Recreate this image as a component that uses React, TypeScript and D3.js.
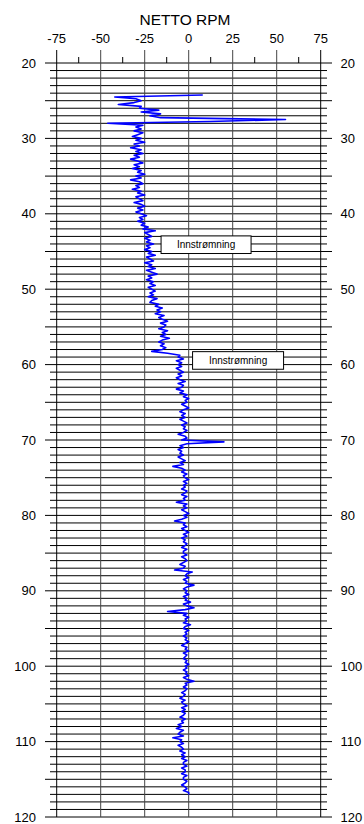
import React from "react";
import * as d3 from "d3";

// depth axis (m) and RPM axis
const X_TICKS = [-75, -50, -25, 0, 25, 50, 75];
const X_MINOR = [-62.5, -37.5, -12.5, 12.5, 37.5, 62.5];
const Y_LABELS = [20, 30, 40, 50, 60, 70, 80, 90, 100, 110, 120];
const Y_GRID = d3.range(20, 121, 1);

// trace samples, every 0.25 m from 24.25 m
const START_DEPTH = 24.25;
const STEP = 0.25;
const rpm = [
  8, -42, -30,
  -27, -31, -40, -27,
  -28, -17, -27, -16,
  -22, -16, 55, 12,
  -46, -26, -30, -27,
  -31, -26, -29, -32,
  -27, -30, -25, -31,
  -28, -33, -27, -30,
  -26, -31, -28, -33,
  -29, -26, -31, -28,
  -32, -27, -29, -25,
  -30, -27, -33, -28,
  -26, -30, -28, -32,
  -27, -29, -25, -30,
  -28, -26, -31, -27,
  -25, -29, -26, -30,
  -27, -24, -28, -26,
  -29, -25, -27, -23,
  -26, -19, -25, -23,
  -21, -25, -22, -24,
  -20, -24, -22, -25,
  -21, -23, -19, -24,
  -22, -20, -25, -21,
  -23, -19, -24, -21,
  -18, -23, -21, -24,
  -20, -22, -19, -23,
  -21, -19, -22, -20,
  -23, -18, -21, -22,
  -17, -19, -15, -18,
  -16, -19, -14, -17,
  -15, -12, -16, -13,
  -14, -17, -12, -15,
  -13, -16, -11, -15,
  -17, -14, -16, -13,
  -15, -21, -12, -5,
  -6, -3, -7, -4,
  -6, -4, -7, -5,
  -3, -6, -4, -7,
  -5, -2, -6, -3,
  -4, -7, -3, -5,
  -1, -3, 0, -2,
  -1, -4, -2, 0,
  -3, -5, -2, -4,
  -2, -5, -3, -1,
  -4, -2, -3, -1,
  -3, -6, -2, -1,
  -4, 20, -1, -5,
  -3, -6, -4, -5,
  -3, -6, -4, -2,
  -5, -3, -9, -4,
  -2, -4, -1, -3,
  -2, 0, -3, -1,
  -3, -2, -4, -1,
  -2, -4, -1, -3,
  -2, -7, -1, -3,
  -1, -4, -2, 0,
  -3, -1, -4, -8,
  -2, -3, -1, -4,
  -2, 0, -3, -1,
  -4, -2, -3, -1,
  -2, -4, -1, -3,
  -3, -1, -4, -2,
  -1, -3, -5, -2,
  -3, -8, 2, -1,
  -2, 0, -3, -1,
  -2, 3, -1, -3,
  -1, -2, 0, -3,
  -1, -2, 1, -3,
  -1, 3, -2, -12,
  -1, -3, 0, -2,
  -1, -3, 1, -2,
  -3, 0, -2, -1,
  -3, -1, -2, 0,
  -2, -4, -1, -2,
  0, -3, -1, -2,
  -3, -1, -2, 0,
  -2, -1, -3, -1,
  -2, 0, -3, -1,
  3, -2, -1, -3,
  -1, -2, -4, -2,
  -3, -5, -2, -4,
  -3, -1, -4, -2,
  -4, -2, -3, -5,
  -2, -4, -3, -6,
  -4, -7, -3, -5,
  -6, -3, -9, -4,
  -5, -3, -6, -4,
  -3, -5, -2, -4,
  -2, -4, -1, -3,
  -3, -1, -4, -2,
  -2, -4, -1, -3,
  -3, -1, -2, -4,
  -2, -1, -3, 0,
  0,
];

const noteLabels = ["Innstrømning", "Innstrømning"];
const noteDepths = [44.1, 59.45];
const noteLeft = [-15.7, 2.2];

const W = 364;
const H = 824;
const FONT = "'Liberation Sans', Arial, sans-serif";

export default function App() {
  const x = d3.scaleLinear().domain([-75, 75]).range([56.7, 320.7]);
  const y = d3.scaleLinear().domain([20, 120]).range([63, 817]);

  const pts = rpm.map((v, i) => ({ d: START_DEPTH + i * STEP, v }));
  const line = d3
    .line<{ d: number; v: number }>()
    .x((p) => x(p.v))
    .y((p) => y(p.d));

  const boxW = [90, 91];
  const boxH = 17.6;

  return (
    <svg
      width={W}
      height={H}
      style={{ position: "absolute", left: 0, top: 0, background: "#fff" }}
      fontFamily={FONT}
    >
      <text x={185} y={25} fontSize={15.5} textAnchor="middle" fill="#000">
        NETTO RPM
      </text>

      {/* top tick labels */}
      {X_TICKS.map((t) => (
        <text key={t} x={x(t)} y={43} fontSize={13} textAnchor="middle" fill="#000">
          {t}
        </text>
      ))}

      {/* horizontal grid, majors every 5 m */}
      {Y_GRID.map((d) => {
        const major = d % 5 === 0;
        return (
          <line
            key={d}
            x1={major ? 45 : 50}
            x2={major ? 332 : 327}
            y1={y(d)}
            y2={y(d)}
            stroke="#000"
            strokeWidth={1}
          />
        );
      })}

      {/* vertical grid + top major ticks */}
      {X_TICKS.map((t) => (
        <line
          key={t}
          x1={x(t)}
          x2={x(t)}
          y1={50}
          y2={y(120)}
          stroke={Math.abs(t) === 75 ? "#000" : "#444"}
          strokeWidth={1}
        />
      ))}
      {X_MINOR.map((t) => (
        <line key={t} x1={x(t)} x2={x(t)} y1={57} y2={y(20)} stroke="#000" strokeWidth={1} />
      ))}

      {/* depth labels both sides */}
      {Y_LABELS.map((d) => (
        <g key={d}>
          <text x={36} y={y(d) + 4.5} fontSize={13} textAnchor="end" fill="#000">
            {d}
          </text>
          <text x={340.5} y={y(d) + 4.5} fontSize={13} textAnchor="start" fill="#000">
            {d}
          </text>
        </g>
      ))}

      <path
        d={line(pts) || ""}
        fill="none"
        stroke="#0000ff"
        strokeWidth={1.6}
        strokeLinejoin="round"
      />

      {noteLabels.map((lab, i) => {
        const left = x(noteLeft[i]);
        const cy = y(noteDepths[i]);
        return (
          <g key={i}>
            <rect
              x={left}
              y={cy - boxH / 2}
              width={boxW[i]}
              height={boxH}
              fill="#fff"
              stroke="#000"
              strokeWidth={1}
            />
            <text x={left + boxW[i] / 2} y={cy + 3.5} fontSize={10} textAnchor="middle" fill="#000">
              {lab}
            </text>
          </g>
        );
      })}
    </svg>
  );
}
